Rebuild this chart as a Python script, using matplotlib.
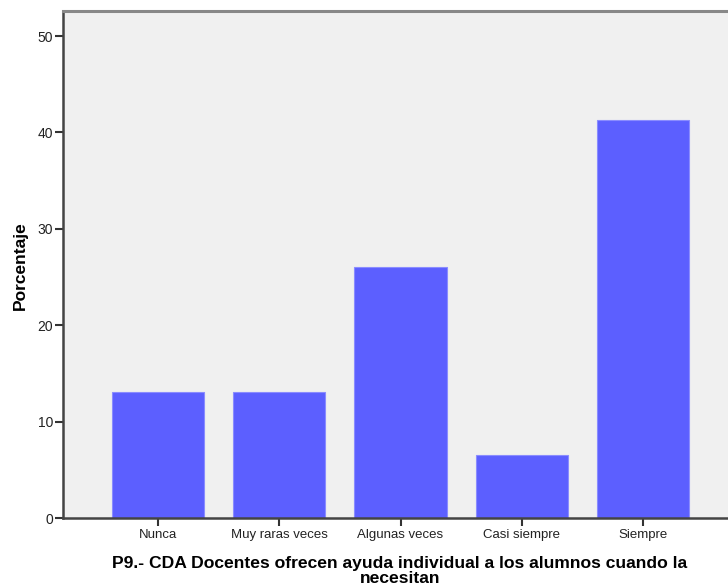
import matplotlib
matplotlib.use("Agg")
import matplotlib.pyplot as plt
import numpy as np

# datos (porcentaje sobre 46 casos)
categorias = ["Nunca", "Muy raras veces", "Algunas veces", "Casi siempre", "Siempre"]
porcentajes = [13.04, 13.04, 26.09, 6.52, 41.30]
yticks = [0, 10, 20, 30, 40, 50]

plt.rcParams['font.family'] = ['Liberation Sans', 'DejaVu Sans']

W, H = 728, 588
fig = plt.figure(figsize=(W / 100, H / 100), dpi=100)

# area del grafico en pixeles (se sale por la derecha como en el original)
left_px, right_px, top_px, bottom_px = 63, 738, 11, 518
ax = fig.add_axes([left_px / W, 1 - bottom_px / H,
                   (right_px - left_px) / W, (bottom_px - top_px) / H])
ax.set_facecolor('#F0F0F0')

x = np.arange(len(categorias))
ax.bar(x, porcentajes, width=0.76, color='#5C5FFF', edgecolor='#8A8CFF',
       linewidth=0.8, zorder=2)

ax.set_xlim(-0.783, 4.783)
ax.set_ylim(0, 52.6)
ax.set_xticks(x)
ax.set_xticklabels(categorias, fontsize=9.5, color='#222222')
ax.set_yticks(yticks)
ax.set_yticklabels([str(v) for v in yticks], fontsize=10, color='#222222')
ax.tick_params(axis='both', direction='out', length=6, width=1.5,
               color='#333333', pad=2)
ax.tick_params(axis='y', pad=1)

for s in ['left', 'bottom']:
    ax.spines[s].set_color('#444444')
    ax.spines[s].set_linewidth(1.8)
ax.spines['top'].set_color('#888888')
ax.spines['top'].set_linewidth(2.2)
ax.spines['right'].set_visible(False)

fig.text(20 / W, 1 - 266 / H, "Porcentaje", rotation=90, ha='center',
         va='center', fontsize=12.5, fontweight='bold')
fig.text(400 / W, 1 - 571 / H,
         "P9.- CDA Docentes ofrecen ayuda individual a los alumnos cuando la\nnecesitan",
         ha='center', va='center', fontsize=12.6, fontweight='bold',
         linespacing=0.95)

fig.savefig("out.png", dpi=100)
